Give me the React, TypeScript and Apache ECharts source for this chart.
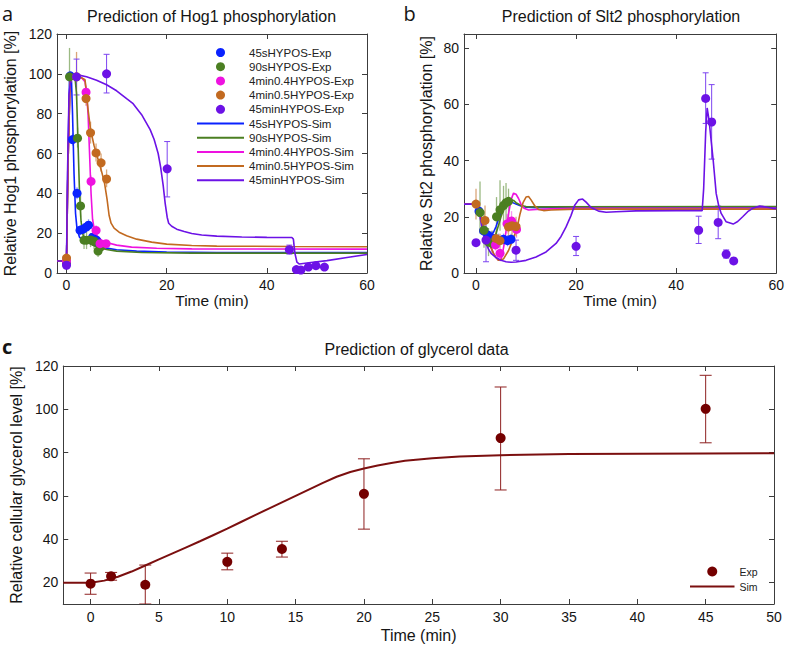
import React, { useEffect, useRef } from 'react';
import * as echarts from 'echarts';

const FONT = "'Liberation Sans', Arial, Helvetica, sans-serif";

// ---------- Tick values ----------
const timeTicksAB = [0, 20, 40, 60];
const hogTicksY = [0, 20, 40, 60, 80, 100, 120];
const sltTicksY = [0, 20, 40, 60, 80];
const glyTicksX = [0, 5, 10, 15, 20, 25, 30, 35, 40, 45, 50];
const glyTicksY = [20, 40, 60, 80, 100, 120];

// ---------- Series names ----------
const hogExpNames = ['45sHYPOS-Exp', '90sHYPOS-Exp', '4min0.4HYPOS-Exp', '4min0.5HYPOS-Exp', '45minHYPOS-Exp'];
const hogSimNames = ['45sHYPOS-Sim', '90sHYPOS-Sim', '4min0.4HYPOS-Sim', '4min0.5HYPOS-Sim', '45minHYPOS-Sim'];
const colors = ['#0a22ff', '#4b7f22', '#ee12e0', '#c26a20', '#6c12e6'];
const errColors = ['rgba(20,40,255,0.45)', 'rgba(90,140,50,0.6)', 'rgba(238,18,224,0.45)', 'rgba(194,106,32,0.6)', '#7d45f0'];

// ---------- Panel a: Hog1 experimental [t, value, low, high] ----------
const hog45sExp = [[0, 5, 5, 5], [0.75, 99, 97, 101], [1.2, 67, 64, 70], [2.1, 40, 37, 43], [2.7, 21.5, 19, 24], [3.3, 22, 19.5, 24.5], [3.9, 23, 20.5, 25.5], [4.4, 24, 21, 27], [5.2, 18, 16, 20], [6, 16.5, 14.5, 18.5]];
const hog90sExp = [[0, 5.5, 5.5, 5.5], [0.6, 98.5, 84, 113], [2.2, 67.7, 63, 73], [2.8, 33.7, 28, 40], [3.5, 16.5, 12, 22], [4, 16.5, 12, 21], [4.8, 16.6, 13, 20], [5.5, 16, 12, 20], [6.3, 11, 8, 14], [6.8, 13, 10, 16]];
const hog4m04Exp = [[0, 6, 6, 6], [3.9, 90.8, 88, 94], [4.9, 46, 43, 49], [5.9, 21.4, 19, 24], [6.7, 14.7, 13, 16.5], [7.9, 14.7, 13, 16.5]];
const hog4m05Exp = [[0, 7.5, 6, 9], [2, 98.5, 87, 111], [3.9, 87.6, 84, 91], [4.8, 70.4, 65, 76], [5.9, 60.3, 56, 65], [6.9, 55.3, 51, 60], [8, 47.2, 43, 52]];
const hog45mExp = [[0, 3.9, 2.5, 5.5], [2, 98.5, 89.4, 107.4], [8, 100, 90.4, 109.8], [20.1, 52.3, 38.2, 66], [44.5, 11.7, 9.5, 14], [45.9, 1.7, 1, 2.5], [46.8, 1.5, 1, 2], [48.3, 3, 2.5, 3.5], [49.8, 3.7, 3, 4.5], [51.5, 3, 2.5, 3.5]];

// ---------- Panel a: Hog1 simulations [t, value] ----------
const hog45sSim = [[-1.9, 6], [0, 6], [0.3, 60], [0.6, 97], [0.8, 100], [1.0, 96], [1.2, 80], [1.5, 50], [1.8, 30], [2.1, 22], [2.6, 18], [3.2, 16.5], [4, 15.5], [5, 14.5], [6, 13.6], [8, 12.5], [10, 11.7], [14, 11], [20, 10.5], [30, 10.3], [60, 10.3]];
const hog90sSim = [[-1.9, 6], [0, 6], [0.3, 55], [0.7, 95], [1.2, 100], [1.7, 98], [2.0, 90], [2.3, 65], [2.6, 40], [2.9, 26], [3.3, 19], [4, 16], [5, 14.3], [6, 13], [8, 11.8], [10, 11], [15, 10.3], [25, 10], [60, 10]];
const hog4m04Sim = [[-1.9, 6], [0, 6], [0.3, 55], [0.7, 95], [1.2, 100], [2, 99], [3, 98], [3.7, 96], [4.0, 90], [4.3, 80], [4.6, 60], [4.9, 40], [5.2, 27], [5.6, 21], [6.3, 18], [7, 16.5], [8, 15.3], [10, 14], [13, 13], [18, 12.4], [25, 12.1], [60, 12]];
const hog4m05Sim = [[-1.9, 6], [0, 6], [0.3, 55], [0.7, 95], [1.2, 100], [2, 99], [3, 98], [3.7, 97], [4.0, 90], [4.3, 82], [4.8, 72], [5.5, 64], [6.2, 58], [7, 51], [7.6, 45], [8.1, 37], [8.5, 29], [8.9, 25], [9.5, 22.5], [10.5, 20.5], [12, 18.7], [14, 17], [17, 15.5], [20, 14.5], [25, 13.8], [30, 13.5], [45, 13.3], [60, 13.2]];
const hog45mSim = [[-1.9, 6], [0, 6], [0.2, 50], [0.5, 90], [1, 100], [2, 99.6], [4, 98.5], [6, 96.8], [8, 94.5], [10, 91.5], [12, 87.5], [13.3, 85], [15, 79.5], [16.7, 72], [17.5, 67], [18.3, 60], [18.8, 53], [19.3, 44], [19.7, 35], [20.1, 28], [20.4, 25], [21, 23.5], [22, 22], [23.5, 20.8], [25, 19.8], [27, 19.1], [30, 18.5], [35, 18.1], [40, 17.9], [45, 17.8], [45.3, 17], [45.6, 10], [46, 5.5], [46.5, 4.5], [48, 5], [52, 6.2], [56, 7.8], [60, 9.3]];

// ---------- Panel b: Slt2 experimental ----------
const slt45sExp = [[0.6, 22, 20, 24], [1.5, 15, 12, 18], [2.4, 13.5, 11, 16], [3.2, 12.5, 10, 15], [4.5, 11.5, 9, 14], [5.5, 12, 10, 14], [6.3, 11.5, 9.5, 13.5], [7, 12, 10, 14]];
const slt90sExp = [[0.8, 21.5, 14, 32.5], [1.6, 15.2, 9, 22], [2.5, 11, 6, 16], [3.2, 10.5, 7, 15], [4.1, 20, 12, 27], [4.8, 22.5, 15, 33], [5.5, 24, 17, 31], [6, 25, 19, 32], [6.5, 25.5, 20, 30]];
const slt4m04Exp = [[3.9, 10, 8, 12], [4.8, 7, 5, 9], [6.2, 17.5, 14, 21], [7.1, 18.5, 15, 22], [8.1, 15.5, 12.5, 18.5]];
const slt4m05Exp = [[0, 24.5, 19, 30], [1.8, 18.7, 14, 24], [4, 12.3, 10, 15], [4.8, 11.5, 9, 14], [6.5, 16.4, 13, 20], [7.2, 16.8, 13.5, 20], [8, 16.5, 13, 20]];
const slt45mExp = [[0, 10.8, 10.8, 10.8], [2, 11.7, 4, 19.5], [8, 8.1, 4.5, 11.7], [20, 9.5, 6.2, 13], [44.5, 15.2, 10.5, 20.2], [45.9, 62.1, 53.2, 71.2], [47.1, 53.7, 40.5, 67], [48.4, 18, 12.2, 23.8], [50, 6.7, 5.3, 8.2], [51.5, 4.3, 4.3, 4.3]];

// ---------- Panel b: Slt2 simulations ----------
const slt45sSim = [[-2.4, 24.5], [0, 24.5], [0.5, 24], [1, 20], [1.5, 15.5], [2, 13.8], [2.5, 13.3], [3, 13.5], [3.5, 14.5], [4, 16.5], [4.5, 19], [5, 21.5], [5.5, 23.5], [6, 24.8], [6.5, 25.3], [7, 25.3], [8, 24.5], [9, 23.8], [10, 23.4], [12, 23.2], [15, 23.3], [60, 23.3]];
const slt90sSim = [[-2.4, 24.5], [0, 24.5], [0.5, 24], [1, 20.5], [1.5, 16], [2, 13], [2.5, 11.5], [3, 11], [3.5, 12], [4, 14], [4.5, 17], [5, 20], [5.5, 22.5], [6, 24], [6.5, 25.3], [7, 26], [7.5, 25.8], [8, 25], [9, 24], [10, 23.6], [12, 23.5], [60, 23.6]];
const slt4m04Sim = [[-2.4, 24.5], [0, 24.5], [0.5, 24], [1, 20], [1.5, 15.5], [2, 13], [2.5, 11], [3, 9], [3.5, 7], [4, 5.5], [4.5, 4.6], [4.9, 4.5], [5.2, 6], [5.6, 10], [6, 15], [6.5, 21], [7, 26], [7.5, 28.4], [8, 28], [8.5, 26.5], [9, 24.5], [9.6, 23], [10.5, 22.4], [12, 22.6], [15, 22.8], [20, 23], [60, 23]];
const slt4m05Sim = [[-2.4, 24.5], [0, 24.5], [0.5, 24], [1, 20], [1.5, 15.5], [2, 13], [2.5, 11], [3, 9], [3.5, 7], [4, 5.5], [4.5, 4.5], [5.5, 5], [6.5, 8], [7.5, 12.5], [8.2, 16], [8.8, 21], [9.4, 25], [10, 27], [10.5, 27.2], [11, 26], [11.7, 24], [12.5, 22.6], [13.5, 22.2], [15, 22.4], [20, 22.7], [60, 22.7]];
const slt45mSim = [[-2.4, 24.5], [0, 24.5], [0.5, 23], [1, 18], [1.5, 13.5], [2, 10.5], [2.5, 8.5], [3, 7], [4, 5.5], [5, 4.5], [6, 4], [7, 3.8], [8, 3.9], [10, 4.5], [12, 5.7], [14, 7.5], [16, 10.5], [17, 13], [18, 16.4], [19, 20.5], [19.7, 24], [20.5, 26], [21.3, 26.3], [22, 25.2], [23, 23.3], [24.5, 22], [26, 21.6], [28, 21.8], [32, 22.1], [40, 22.2], [45.2, 22.2], [45.5, 30], [45.9, 50], [46.2, 58.7], [46.6, 54], [47, 47], [47.4, 40.2], [48, 28.3], [48.5, 24], [49, 21.2], [50, 18.2], [51.4, 17.4], [52.3, 18.3], [53.3, 20], [54.3, 21.8], [55.3, 23], [56.7, 23.8], [58, 23.5], [59.3, 23], [60, 22.9]];

// ---------- Panel c: glycerol ----------
const glyExp = [[0, 19.4, 14.5, 24.3], [1.5, 22.8, 21, 24.6], [4, 18.9, 10, 28], [10, 29.5, 25.8, 33.5], [14, 35.4, 31.7, 39], [20, 60.9, 44.6, 77.1], [30, 86.7, 62.7, 110.3], [45, 100.2, 84.5, 115.7]];
const glySim = [[-2, 19.8], [0, 19.8], [1, 20.8], [2, 22.6], [3, 25], [4, 27.8], [5, 30.6], [6, 33.4], [7, 36.2], [8, 39], [9, 41.9], [10, 44.8], [11, 47.9], [12, 51], [13, 54], [14, 57], [15, 60], [16, 63], [17, 66], [18, 68.8], [19, 71], [20, 72.6], [21, 74], [22, 75.2], [23, 76.2], [25, 77.4], [27, 78.2], [30, 78.8], [35, 79.3], [40, 79.5], [45, 79.6], [50, 79.7]];

const AX = '#3c3c3c';
const TXT = '#151515';

function scatterS(name: string, data: number[][], color: string, ai: number, size = 9) {
  return {
    type: 'scatter', name, data: data.map((d) => [d[0], d[1]]), xAxisIndex: ai, yAxisIndex: ai,
    symbol: 'circle', symbolSize: size, itemStyle: { color, opacity: 1 }, z: 5, silent: true,
  };
}
function lineS(name: string, data: number[][], color: string, ai: number, width = 1.6) {
  return {
    type: 'line', name, data, xAxisIndex: ai, yAxisIndex: ai, symbol: 'none', showSymbol: false,
    lineStyle: { color, width }, itemStyle: { color }, z: 4, clip: true, silent: true,
  };
}
function errS(name: string, data: number[][], color: string, ai: number, cap: number, width = 1) {
  return {
    type: 'custom', name, xAxisIndex: ai, yAxisIndex: ai, z: 3, silent: true, clip: true,
    data: data.filter((d) => d[3] - d[2] > 0.3).map((d) => [d[0], d[2], d[3]]),
    encode: { x: 0, y: [1, 2] },
    renderItem: (_p: any, api: any) => {
      const x = api.value(0);
      const top = api.coord([x, api.value(2)]);
      const bot = api.coord([x, api.value(1)]);
      const st = { stroke: color, lineWidth: width };
      const children: any[] = [{ type: 'line', shape: { x1: top[0], y1: top[1], x2: bot[0], y2: bot[1] }, style: st }];
      if (cap > 0) {
        children.push({ type: 'line', shape: { x1: top[0] - cap / 2, y1: top[1], x2: top[0] + cap / 2, y2: top[1] }, style: st });
        children.push({ type: 'line', shape: { x1: bot[0] - cap / 2, y1: bot[1], x2: bot[0] + cap / 2, y2: bot[1] }, style: st });
      }
      return { type: 'group', children };
    },
  };
}

function xAxes(gi: number, min: number, max: number, ticks: number[], nameGap: number, margin: number, nameSize: number) {
  const line = { show: true, onZero: false, lineStyle: { color: AX, width: 1 } };
  return [
    {
      type: 'value', gridIndex: gi, min, max, position: 'bottom', name: 'Time (min)', nameLocation: 'middle', nameGap,
      nameTextStyle: { fontSize: nameSize, color: TXT, fontFamily: FONT },
      axisLine: line, axisTick: { show: true, inside: true, length: 5, customValues: ticks, lineStyle: { color: AX } },
      axisLabel: { customValues: ticks, fontSize: 14, color: TXT, margin, fontFamily: FONT }, splitLine: { show: false },
    },
    {
      type: 'value', gridIndex: gi, min, max, position: 'top', axisLine: line,
      axisTick: { show: true, inside: true, length: 5, customValues: ticks, lineStyle: { color: AX } },
      axisLabel: { show: false }, splitLine: { show: false },
    },
  ];
}
function yAxes(gi: number, min: number, max: number, ticks: number[], name: string, nameGap: number) {
  const line = { show: true, onZero: false, lineStyle: { color: AX, width: 1 } };
  return [
    {
      type: 'value', gridIndex: gi, min, max, position: 'left', name, nameLocation: 'middle', nameGap,
      nameTextStyle: { fontSize: 16, color: TXT, fontFamily: FONT },
      axisLine: line, axisTick: { show: true, inside: true, length: 5, customValues: ticks, lineStyle: { color: AX } },
      axisLabel: { customValues: ticks, fontSize: 14, color: TXT, margin: 5, fontFamily: FONT }, splitLine: { show: false },
    },
    {
      type: 'value', gridIndex: gi, min, max, position: 'right', axisLine: line,
      axisTick: { show: true, inside: true, length: 5, customValues: ticks, lineStyle: { color: AX } },
      axisLabel: { show: false }, splitLine: { show: false },
    },
  ];
}

export default function App() {
  const ref = useRef<HTMLDivElement>(null);
  useEffect(() => {
    document.body.style.margin = '0';
    if (!ref.current) return;
    const chart = echarts.init(ref.current, undefined, { renderer: 'svg' });

    const hogExp = [hog45sExp, hog90sExp, hog4m04Exp, hog4m05Exp, hog45mExp];
    const hogSim = [hog45sSim, hog90sSim, hog4m04Sim, hog4m05Sim, hog45mSim];
    const sltExp = [slt45sExp, slt90sExp, slt4m04Exp, slt4m05Exp, slt45mExp];
    const sltSim = [slt45sSim, slt90sSim, slt4m04Sim, slt4m05Sim, slt45mSim];

    const series: any[] = [];
    // panel a
    hogExp.forEach((d, i) => series.push(errS('a-err-' + i, d, errColors[i], 0, i === 4 ? 6 : 0, i === 4 ? 1 : 1.3)));
    hogSim.forEach((d, i) => series.push(lineS(hogSimNames[i], d, colors[i], 0)));
    hogExp.forEach((d, i) => series.push(scatterS(hogExpNames[i], d, colors[i], 0)));
    // panel b
    sltExp.forEach((d, i) => series.push(errS('b-err-' + i, d, errColors[i], 1, i === 4 ? 6 : 0, i === 4 ? 1 : 1.3)));
    sltSim.forEach((d, i) => series.push(lineS('b-' + hogSimNames[i], d, colors[i], 1)));
    sltExp.forEach((d, i) => series.push(scatterS('b-' + hogExpNames[i], d, colors[i], 1)));
    // panel c
    series.push(errS('c-err', glyExp, '#8e2020', 2, 12, 1));
    series.push(lineS('Sim', glySim, '#7b0f0f', 2, 2));
    series.push(scatterS('Exp', glyExp, '#740000', 2, 10));

    const xA = [
      ...xAxes(0, -1.9, 60, timeTicksAB, 19, 5, 15.5),
      ...xAxes(1, -2.4, 60, timeTicksAB, 19, 5, 15.5),
      ...xAxes(2, -2, 50, glyTicksX, 23, 6, 16),
    ];
    const yA = [
      ...yAxes(0, 0, 120, hogTicksY, 'Relative Hog1 phosphorylation [%]', 39),
      ...yAxes(1, 0, 85, sltTicksY, 'Relative Slt2 phosphorylation [%]', 30),
      ...yAxes(2, 10, 120, glyTicksY, 'Relative cellular glycerol level [%]', 39),
    ];
    series.forEach((s) => {
      const g = s.xAxisIndex;
      s.xAxisIndex = g * 2;
      s.yAxisIndex = g * 2;
    });

    const textEl = (text: string, x: number, y: number, size: number, align = 'center', weight: any = 'normal', family = FONT) => ({
      type: 'text', x, y, silent: true,
      style: { text, fontSize: size, fontFamily: family, fontWeight: weight, fill: TXT, align, verticalAlign: 'middle' },
    });
    const hideDot = { opacity: 0 };

    chart.setOption({
      animation: false,
      backgroundColor: '#ffffff',
      grid: [
        { left: 57, top: 34, width: 310, height: 239 },
        { left: 464, top: 34, width: 313, height: 239 },
        { left: 57, top: 366, width: 717, height: 238 },
      ],
      xAxis: xA,
      yAxis: yA,
      legend: [
        {
          left: 196, top: 46.5, orient: 'vertical', itemWidth: 47, itemHeight: 9, itemGap: 2.2, padding: 0,
          selectedMode: false,
          data: [...hogExpNames, ...hogSimNames.map((n) => ({ name: n, itemStyle: hideDot }))],
          textStyle: { fontSize: 11.5, color: '#222', fontFamily: FONT, lineHeight: 12 },
        },
        {
          left: 689, top: 565.5, orient: 'vertical', itemWidth: 44.5, itemHeight: 10, itemGap: 3, padding: 0,
          selectedMode: false, data: ['Exp', { name: 'Sim', itemStyle: hideDot }],
          textStyle: { fontSize: 10.5, color: '#222', fontFamily: FONT, lineHeight: 12 },
        },
      ],
      graphic: [
        textEl('Prediction of Hog1 phosphorylation', 211.5, 16, 16),
        textEl('Prediction of Slt2 phosphorylation', 621, 16, 16),
        textEl('Prediction of glycerol data', 416.5, 349, 16),
        textEl('a', 2, 13, 20, 'left', 'normal', "'Open Sans', sans-serif"),
        textEl('b', 403.5, 13, 20, 'left', 'normal', "'Open Sans', sans-serif"),
        textEl('c', 2, 346, 20, 'left', 'bold', "'Open Sans', sans-serif"),
      ],
      series,
    });
    return () => chart.dispose();
  }, []);
  return <div ref={ref} style={{ width: 787, height: 648, position: 'fixed', left: 0, top: 0 }} />;
}
